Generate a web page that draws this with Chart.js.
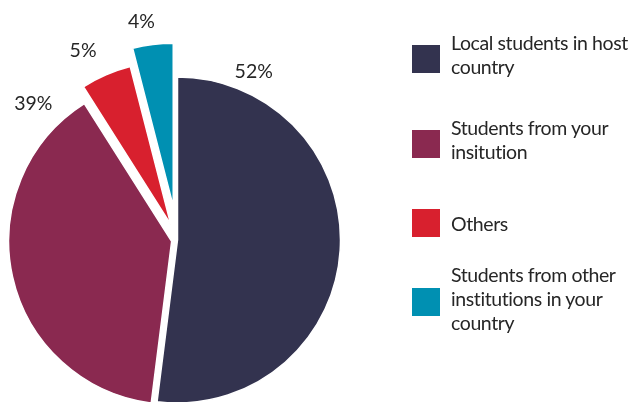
<!DOCTYPE html>
<html>
<head>
<meta charset="utf-8">
<script src="https://cdn.jsdelivr.net/npm/chart.js@4.4.1/dist/chart.umd.min.js"></script>
<style>
  html, body { margin: 0; padding: 0; background: #fff; }
  #contenedor { position: relative; width: 633px; height: 402px; overflow: hidden; }
  #grafico { position: absolute; left: 0; top: 0; }
  .caja { position: absolute; left: 412px; width: 28px; height: 28px; }
  .texto { position: absolute; left: 451px; font-family: Lato, 'Open Sans', sans-serif; font-size: 19.5px; letter-spacing: -0.4px; line-height: 24px; color: #262626; white-space: nowrap; }
</style>
</head>
<body>
<div id="contenedor">
  <canvas id="grafico" width="633" height="402"></canvas>
</div>
<script>
// Datos del grafico
const categorias = [
    ['Local students in host', 'country'],
    ['Students from your', 'insitution'],
    ['Others'],
    ['Students from other', 'institutions in your', 'country']
];
const porcentajes = [52, 39, 5, 4];
const colores = ['#33334f', '#8a2950', '#d8202e', '#0090b2'];

// Separacion de cada porcion (px)
const separaciones = [0, 6, 17, 34];

// Donde va cada etiqueta: fraccion del angulo de la porcion y distancia al borde
const posEtiquetas = [
    { frac: 0.13, gap: 22 },
    { frac: 0.90, gap: 30 },
    { frac: 0.33, gap: 32 },
    { frac: 0.35, gap: 25 }
];

// Leyenda: arriba de cada caja y linea base de la primera linea de texto
const posLeyenda = [
    { caja: 45, base: 50 },
    { caja: 130, base: 135 },
    { caja: 209, base: 231 },
    { caja: 288, base: 282 }
];

// Chart.js mueve la porcion offset/4 y ademas la agranda; aqui solo se traslada
const dibujarArcoOriginal = Chart.ArcElement.prototype.draw;
Chart.ArcElement.prototype.draw = function (ctx) {
    const opciones = this.options;
    const d = opciones.offset || 0;
    const medio = (this.startAngle + this.endAngle) / 2;
    ctx.save();
    ctx.translate(Math.cos(medio) * d, Math.sin(medio) * d);
    this.options = Object.assign({}, opciones, { offset: 0 });
    dibujarArcoOriginal.call(this, ctx);
    this.options = opciones;
    ctx.restore();
};

const etiquetasPorcentaje = {
    id: 'etiquetasPorcentaje',
    afterDatasetsDraw(chart) {
        const ctx = chart.ctx;
        const meta = chart.getDatasetMeta(0);
        ctx.save();
        ctx.font = '19.5px Lato, "Open Sans", sans-serif';
        ctx.fillStyle = '#262626';
        ctx.textAlign = 'center';
        ctx.textBaseline = 'alphabetic';
        meta.data.forEach((arco, i) => {
            const p = posEtiquetas[i];
            const ang = arco.startAngle + p.frac * (arco.endAngle - arco.startAngle);
            const r = arco.outerRadius + separaciones[i] + p.gap;
            const x = arco.x + Math.cos(ang) * r;
            const y = arco.y + Math.sin(ang) * r;
            ctx.fillText(porcentajes[i] + '%', x, y + 7);
        });
        ctx.restore();
    }
};

const ctx = document.getElementById('grafico').getContext('2d');
new Chart(ctx, {
    type: 'pie',
    data: {
        labels: categorias,
        datasets: [{
            data: porcentajes,
            backgroundColor: colores,
            borderColor: '#ffffff',
            borderWidth: 1.5,
            offset: separaciones,
            hoverOffset: 0,
            radius: 163,
            clip: false
        }]
    },
    options: {
        responsive: false,
        animation: false,
        events: [],
        layout: { padding: { left: 0, right: 278, top: 78, bottom: 0 } },
        plugins: {
            legend: { display: false },
            tooltip: { enabled: false }
        }
    },
    plugins: [etiquetasPorcentaje]
});

// Leyenda en HTML
const contenedor = document.getElementById('contenedor');
categorias.forEach((lineas, i) => {
    const caja = document.createElement('div');
    caja.className = 'caja';
    caja.style.background = colores[i];
    caja.style.top = posLeyenda[i].caja + 'px';
    contenedor.appendChild(caja);

    const texto = document.createElement('div');
    texto.className = 'texto';
    texto.style.top = (posLeyenda[i].base - 19.5) + 'px';
    texto.innerHTML = lineas.join('<br>');
    contenedor.appendChild(texto);
});
</script>
</body>
</html>
